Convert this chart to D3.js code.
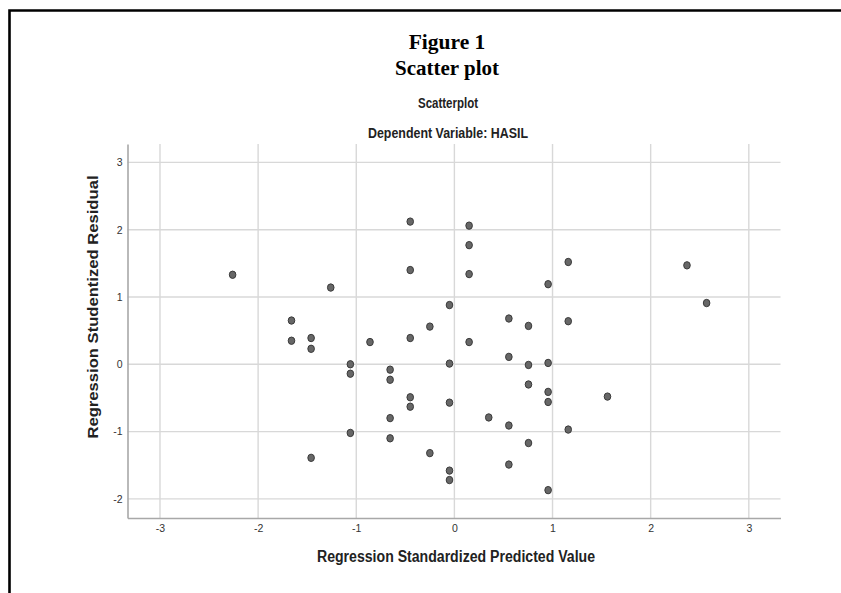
<!DOCTYPE html>
<html>
<head>
<meta charset="utf-8">
<script src="https://cdn.jsdelivr.net/npm/d3@7"></script>
<style>
  body { margin: 0; background: #fff; }
  .sans { font-family: 'Liberation Sans', Arial, sans-serif; }
  .axis text { fill: #333; font-size: 10.5px; }
</style>
</head>
<body>
<div id="chart"></div>
<script>
// predicted value (x) and studentized residual (y)
const predicted = [
  -2.26, -1.26, -1.66, -1.66, -1.46, -1.46, -0.86, -1.06, -1.06, -1.06,
  -1.46, -0.45, 0.15, 0.15, -0.45, 0.15, 1.16, 0.955, 2.37, 2.57,
  -0.05, 0.555, 0.755, 1.16, -0.25, -0.45, 0.15, 0.555, -0.05, 0.755,
  0.955, -0.655, -0.655, 0.755, 0.955, 0.955, 1.56, -0.45, -0.45, -0.05,
  0.35, 0.555, -0.655, -0.655, 1.16, 0.755, -0.25, 0.555, -0.05, -0.05,
  0.955
];
const residual = [
  1.33, 1.14, 0.65, 0.35, 0.39, 0.23, 0.33, 0.00, -0.14, -1.02,
  -1.39, 2.12, 2.06, 1.77, 1.40, 1.34, 1.52, 1.19, 1.47, 0.91,
  0.88, 0.68, 0.57, 0.64, 0.56, 0.39, 0.33, 0.11, 0.01, -0.01,
  0.02, -0.08, -0.23, -0.30, -0.41, -0.56, -0.48, -0.49, -0.63, -0.57,
  -0.79, -0.91, -0.80, -1.10, -0.97, -1.17, -1.32, -1.49, -1.58, -1.72,
  -1.87
];
const xTicks = [-3, -2, -1, 0, 1, 2, 3];
const yTicks = [-2, -1, 0, 1, 2, 3];

const width = 841, height = 593;

const svg = d3.select('#chart')
    .append('svg')
    .attr('width', width)
    .attr('height', height);

// page frame (open to the right and bottom)
svg.append('path')
    .attr('d', `M9.5,${height} V10.5 H${width}`)
    .attr('fill', 'none')
    .attr('stroke', '#000')
    .attr('stroke-width', 2.6);

svg.append('text')
    .attr('x', 447).attr('y', 49)
    .attr('text-anchor', 'middle')
    .style('font-family', "'Liberation Serif', serif")
    .style('font-weight', 'bold')
    .style('font-size', '21.5px')
    .text('Figure 1');
svg.append('text')
    .attr('x', 447).attr('y', 75)
    .attr('text-anchor', 'middle')
    .style('font-family', "'Liberation Serif', serif")
    .style('font-weight', 'bold')
    .style('font-size', '21px')
    .text('Scatter plot');

// condensed-looking sans labels: squeeze to the measured width
function label(x, y, txt, size, len) {
  return svg.append('text')
      .classed('sans', true)
      .attr('x', x).attr('y', y)
      .attr('text-anchor', 'middle')
      .attr('textLength', len)
      .attr('lengthAdjust', 'spacingAndGlyphs')
      .style('font-weight', 'bold')
      .style('font-size', size + 'px')
      .attr('fill', '#222')
      .text(txt);
}

label(448, 108, 'Scatterplot', 14.5, 60);
label(448, 138, 'Dependent Variable: HASIL', 14.5, 160);

const plot = { left: 127.5, right: 780.5, top: 144, bottom: 518 };

const xScale = d3.scaleLinear()
    .domain([-3.331, 3.323])
    .range([plot.left, plot.right]);
const yScale = d3.scaleLinear()
    .domain([-2.284, 3.273])
    .range([plot.bottom, plot.top]);

// grid
svg.append('g')
    .selectAll('line')
    .data(xTicks)
    .join('line')
    .attr('x1', d => xScale(d)).attr('x2', d => xScale(d))
    .attr('y1', plot.top).attr('y2', plot.bottom)
    .attr('stroke', '#d8d8d8')
    .attr('stroke-width', 1.4);
svg.append('g')
    .selectAll('line')
    .data(yTicks)
    .join('line')
    .attr('x1', plot.left).attr('x2', plot.right)
    .attr('y1', d => yScale(d)).attr('y2', d => yScale(d))
    .attr('stroke', '#d8d8d8')
    .attr('stroke-width', 1.4);

const xAxis = d3.axisBottom(xScale)
    .tickValues(xTicks)
    .tickSize(0)
    .tickPadding(7)
    .tickFormat(d => String(d));
svg.append('g')
    .classed('axis sans', true)
    .attr('transform', `translate(0,${plot.bottom})`)
    .call(xAxis)
    .call(g => g.select('.domain').attr('stroke', '#a8a8a8').attr('stroke-width', 1.6));

const yAxis = d3.axisLeft(yScale)
    .tickValues(yTicks)
    .tickSize(0)
    .tickPadding(5)
    .tickFormat(d => String(d));
svg.append('g')
    .classed('axis sans', true)
    .attr('transform', `translate(${plot.left},0)`)
    .call(yAxis)
    .call(g => g.select('.domain').attr('stroke', '#a8a8a8').attr('stroke-width', 1.6));

svg.selectAll('.axis text').attr('font-family', null).attr('font-size', null);

// axis titles
label(456, 562, 'Regression Standardized Predicted Value', 16, 278);
svg.append('text')
    .classed('sans', true)
    .attr('transform', 'translate(98,307) rotate(-90)')
    .attr('text-anchor', 'middle')
    .attr('textLength', 263)
    .attr('lengthAdjust', 'spacingAndGlyphs')
    .style('font-weight', 'bold')
    .style('font-size', '15.5px')
    .attr('fill', '#222')
    .text('Regression Studentized Residual');

// points
svg.append('g')
    .selectAll('ellipse')
    .data(predicted.map((p, i) => [p, residual[i]]))
    .join('ellipse')
    .attr('cx', d => xScale(d[0]))
    .attr('cy', d => yScale(d[1]))
    .attr('rx', 3.3)
    .attr('ry', 3.7)
    .attr('fill', '#676767')
    .attr('stroke', '#3a3a3a')
    .attr('stroke-width', 1);
</script>
</body>
</html>
